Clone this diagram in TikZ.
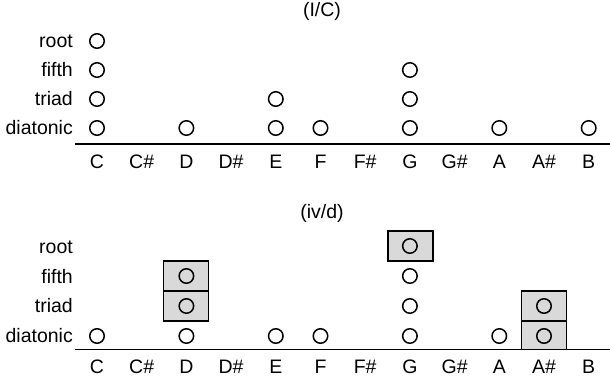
\documentclass[tikz,border=0pt]{standalone}
\usepackage{fontspec}
\setmainfont{Liberation Sans}
\begin{document}
\begin{tikzpicture}[x=1pt,y=-1pt,
  font=\fontsize{19.5}{23}\selectfont,
  pc/.style={circle,draw,line width=1.5pt,minimum size=14.5pt,inner sep=0pt},
  rowlab/.style={anchor=east,inner sep=0pt},
  notelab/.style={inner sep=0pt},
  cell/.style={draw,line width=1.3pt,fill=black!15},
  axis/.style={line width=1.5pt}]
\useasboundingbox (0,0) rectangle (610,388);
% ---------- top panel (I/C)
\node (t1) at (322,11) {(I/C)};
\foreach \lab/\y [count=\r] in {root/41,fifth/70,triad/99,diatonic/128}
  \node[rowlab] (tl\r) at (73,\y) {\lab};
\foreach \n [count=\i from 0] in {C,C\#,D,D\#,E,F,F\#,G,G\#,A,A\#,B}
  \node[notelab] (tn\i) at ({97+44.7*\i},162) {\n};
\coordinate (ta) at (75,144);
\coordinate (tb) at (610,144);
\draw[axis] (ta) -- (tb);
% circles: column index / row y
\foreach \c/\y/\nm in {0/41/tcR,0/70/tcF,0/99/tcT,0/128/tcD,
  2/128/tdD,4/99/teT,4/128/teD,5/128/tfD,
  7/70/tgF,7/99/tgT,7/128/tgD,9/128/taD,11/128/tbD}
  \node[pc] (\nm) at ({97+44.7*\c},\y) {};
% ---------- bottom panel (iv/d)
\node (t2) at (322,213) {(iv/d)};
\foreach \lab/\y [count=\r] in {root/247,fifth/277,triad/306,diatonic/336}
  \node[rowlab] (bl\r) at (73,\y) {\lab};
\foreach \n [count=\i from 0] in {C,C\#,D,D\#,E,F,F\#,G,G\#,A,A\#,B}
  \node[notelab] (bn\i) at ({97+44.7*\i},367) {\n};
\coordinate (ba) at (75,349.5);
\coordinate (bb) at (610,349.5);
% highlighted cells
\draw[cell] (163.5,261) rectangle (208.5,291);
\draw[cell] (163.5,291) rectangle (208.5,321);
\draw[cell] (388,231) rectangle (433,261);
\draw[cell] (521.5,291) rectangle (566.5,321);
\draw[cell] (521.5,321) rectangle (566.5,349.5);
\draw[axis] (ba) -- (bb);
\foreach \c/\y/\nm in {0/336/bcD,2/276/bdF,2/306/bdT,2/336/bdD,
  4/336/beD,5/336/bfD,7/246/bgR,7/276/bgF,7/306/bgT,7/336/bgD,
  9/336/baD,10/306/bsT,10/336/bsD}
  \node[pc] (\nm) at ({97+44.7*\c},\y) {};
\end{tikzpicture}
\end{document}
